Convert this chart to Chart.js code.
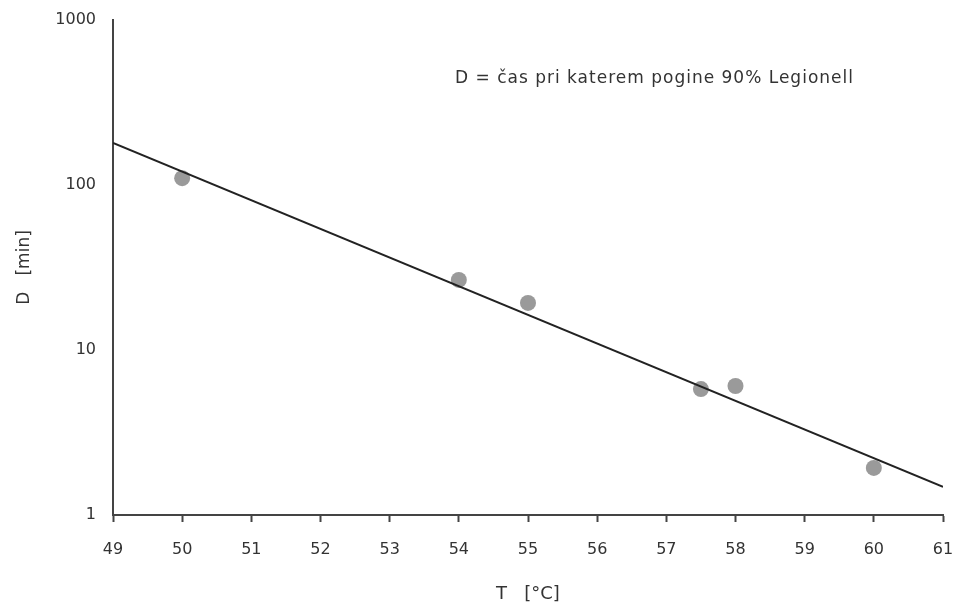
<!DOCTYPE html>
<html>
<head>
<meta charset="utf-8">
<script src="https://cdn.jsdelivr.net/npm/chart.js@4"></script>
<style>
  body { margin: 0; background: #fff; }
  #wrap { width: 955px; height: 609px; position: relative; }
</style>
</head>
<body>
<div id="wrap"><canvas id="graf"></canvas></div>
<script>
// meritve: temperatura in čas D
const temperature = [50, 54, 55, 57.5, 58, 60];
const casD = [110, 26.6, 19.3, 5.8, 6.05, 1.93];

// regresijska premica (konca)
const premicaT = [49, 61];
const premicaD = [180, 1.48];

const xTicks = [49, 50, 51, 52, 53, 54, 55, 56, 57, 58, 59, 60, 61];
const yTicks = [1, 10, 100, 1000];

const opis = "D = čas pri katerem pogine 90% Legionell";

const font = { family: "DejaVu Sans", size: 16 };

const napisPlugin = {
  id: "napis",
  afterDraw(chart) {
    const ctx = chart.ctx;
    ctx.save();
    ctx.font = "17px 'DejaVu Sans'";
    ctx.letterSpacing = "1px";
    ctx.fillStyle = "#333";
    ctx.textBaseline = "middle";
    ctx.fillText(opis, 455, 79);
    ctx.restore();
  }
};

new Chart(document.getElementById("graf"), {
  type: "scatter",
  data: {
    datasets: [
      {
        label: "premica",
        data: premicaT.map((t, i) => ({ x: t, y: premicaD[i] })),
        showLine: true,
        borderColor: "#222",
        borderWidth: 2,
        pointRadius: 0
      },
      {
        label: "meritve",
        data: temperature.map((t, i) => ({ x: t, y: casD[i] })),
        backgroundColor: "#9a9a9a",
        borderWidth: 0,
        pointRadius: 8
      }
    ]
  },
  options: {
    responsive: true,
    maintainAspectRatio: false,
    animation: false,
    layout: { padding: { top: 0, right: 0 } },
    plugins: { legend: { display: false }, tooltip: { enabled: false } },
    scales: {
      x: {
        type: "linear",
        min: 49,
        max: 61,
        afterBuildTicks: axis => { axis.ticks = xTicks.map(v => ({ value: v })); },
        afterFit: axis => { axis.height = 94; axis.paddingRight = 12; },
        grid: { display: true, drawOnChartArea: false, drawTicks: true, tickLength: 7, tickColor: "#444", tickWidth: 2 },
        border: { color: "#444", width: 2 },
        ticks: { color: "#333", font: font, padding: 18, maxRotation: 0 },
        title: { display: true, text: "T   [°C]", color: "#333", font: { family: "DejaVu Sans", size: 18 }, padding: { top: 14 } }
      },
      y: {
        type: "logarithmic",
        min: 1,
        max: 1000,
        afterBuildTicks: axis => { axis.ticks = yTicks.map(v => ({ value: v })); },
        afterFit: axis => { axis.width = 113; axis.paddingTop = 20; },
        grid: { display: false, drawTicks: false },
        border: { color: "#444", width: 2 },
        ticks: { color: "#333", font: font, padding: 17, callback: v => String(v) },
        title: { display: true, text: "D   [min]", color: "#333", font: { family: "DejaVu Sans", size: 17 }, padding: { top: 14, bottom: 4 } }
      }
    }
  },
  plugins: [napisPlugin]
});
</script>
</body>
</html>
